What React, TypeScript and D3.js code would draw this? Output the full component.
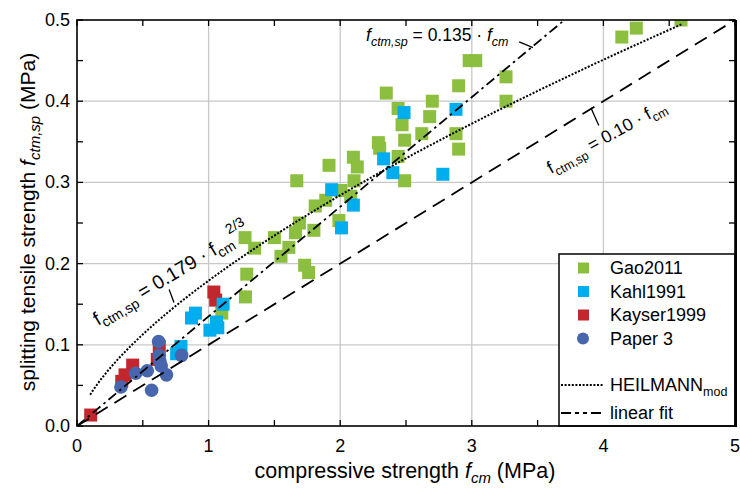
import React from "react";
import * as d3 from "d3";

const gaoX = [4.59, 4.14, 4.25, 2.98, 3.03, 2.9, 3.26, 2.7, 3.26, 2.68, 2.62, 2.88, 2.9, 2.49, 2.44, 2.47, 2.49, 2.29, 2.3, 2.1, 2.13, 1.915, 2.44, 2.105, 1.67, 2.006, 1.89, 2.08, 1.81, 1.69, 1.99, 1.66, 1.8, 1.277, 1.5, 1.35, 1.61, 1.55, 1.73, 1.76, 1.29, 1.28, 1.1, 2.35];
const gaoY = [0.5, 0.479, 0.49, 0.45, 0.45, 0.419, 0.43, 0.4, 0.4, 0.381, 0.36, 0.36, 0.341, 0.302, 0.391, 0.371, 0.352, 0.349, 0.342, 0.331, 0.319, 0.321, 0.332, 0.302, 0.302, 0.29, 0.278, 0.283, 0.271, 0.25, 0.253, 0.238, 0.241, 0.232, 0.232, 0.219, 0.22, 0.209, 0.198, 0.189, 0.187, 0.159, 0.139, 0.41];
const kahlX = [2.88, 2.78, 2.485, 2.33, 2.4, 1.935, 2.1, 2.01, 1.11, 1.06, 1.01, 1.07, 0.9, 0.87, 0.79, 0.757];
const kahlY = [0.39, 0.31, 0.386, 0.329, 0.312, 0.291, 0.272, 0.244, 0.15, 0.128, 0.118, 0.121, 0.139, 0.133, 0.098, 0.089];
const kayserX = [1.04, 1.054, 0.625, 0.61, 0.423, 0.365, 0.34, 0.104];
const kayserY = [0.165, 0.155, 0.098, 0.082, 0.075, 0.063, 0.055, 0.0135];
const paperX = [0.62, 0.625, 0.64, 0.68, 0.795, 0.534, 0.567, 0.446, 0.334, 0.63];
const paperY = [0.104, 0.087, 0.074, 0.063, 0.087, 0.068, 0.044, 0.065, 0.048, 0.08];

const xTicks = [0, 1, 2, 3, 4, 5];
const yTicks = [0, 0.1, 0.2, 0.3, 0.4, 0.5];
const yTickLabels = ["0.0", "0.1", "0.2", "0.3", "0.4", "0.5"];
const heilCoef = 0.179;
const heilRange = [0.1, 4.6];
const slopeA = 0.135;
const slopeB = 0.1;

const C = { gao: "#8cbf3f", kahl: "#00adef", kayser: "#c1272d", paper: "#4766ad" };
const FONT = "'Liberation Sans', Arial, sans-serif";

export default function App() {
  const W = 740, H = 489;
  const x = d3.scaleLinear().domain([0, 5]).range([77, 735]);
  const y = d3.scaleLinear().domain([0, 0.5]).range([426, 20]);
  const S = 13;

  const heilPts = d3.range(heilRange[0], heilRange[1] + 1e-9, 0.02).map((v) => [v, heilCoef * Math.pow(v, 2 / 3)] as [number, number]);
  const line = d3.line<[number, number]>().x((d) => x(d[0])).y((d) => y(d[1]));
  const lineA: [number, number][] = [[0, 0], [0.5 / slopeA, 0.5]];
  const lineB: [number, number][] = [[0, 0], [5, 5 * slopeB]];

  const minorX = d3.range(0, 5.01, 0.5);
  const minorY = d3.range(0, 0.501, 0.05);

  const square = (cx: number, cy: number, col: string, k: string, s = S) => (
    <rect key={k} x={cx - s / 2} y={cy - s / 2} width={s} height={s} fill={col} />
  );

  const lx = 559, ly = 254;
  const legendItems = [
    { name: "Gao2011", col: C.gao, circ: false },
    { name: "Kahl1991", col: C.kahl, circ: false },
    { name: "Kayser1999", col: C.kayser, circ: false },
    { name: "Paper 3", col: C.paper, circ: true },
  ];

  return (
    <svg width={W} height={H} style={{ position: "absolute", left: 0, top: 0, background: "#fff" }} fontFamily={FONT}>
      <defs>
        <clipPath id="plot">
          <rect x={77} y={20} width={658} height={406} />
        </clipPath>
      </defs>
      <rect x={0} y={0} width={W} height={H} fill="#fff" />
      {/* grid */}
      {xTicks.slice(1, -1).map((t) => (
        <line key={"gx" + t} x1={x(t)} x2={x(t)} y1={20} y2={426} stroke="#c8c8c8" strokeWidth={1.3} />
      ))}
      {yTicks.slice(1, -1).map((t) => (
        <line key={"gy" + t} x1={77} x2={735} y1={y(t)} y2={y(t)} stroke="#c8c8c8" strokeWidth={1.3} />
      ))}
      <g clipPath="url(#plot)">
        {gaoX.map((v, i) => square(x(v), y(gaoY[i]), C.gao, "g" + i))}
        {kayserX.map((v, i) => square(x(v), y(kayserY[i]), C.kayser, "r" + i))}
        {kahlX.map((v, i) => square(x(v), y(kahlY[i]), C.kahl, "b" + i))}
        {paperX.map((v, i) => (
          <circle key={"p" + i} cx={x(v)} cy={y(paperY[i])} r={6.8} fill={C.paper} />
        ))}
        <path d={line(lineB) || ""} fill="none" stroke="#000" strokeWidth={1.8} strokeDasharray="14,8" />
        <path d={line(lineA) || ""} fill="none" stroke="#000" strokeWidth={1.8} strokeDasharray="10,4,2.5,4" />
        <path d={line(heilPts) || ""} fill="none" stroke="#000" strokeWidth={2} strokeDasharray="2,1.6" />
      </g>
      {/* leaders */}
      <line x1={x(3.36)} y1={y(0.473)} x2={x(3.465)} y2={y(0.466)} stroke="#000" strokeWidth={1.3} />
      <line x1={x(3.905)} y1={y(0.392)} x2={x(3.965)} y2={y(0.37)} stroke="#000" strokeWidth={1.3} />
      <line x1={x(0.7)} y1={y(0.168)} x2={x(0.737)} y2={y(0.152)} stroke="#000" strokeWidth={1.3} />
      {/* annotations */}
      <text x={366} y={41} fontSize={17.5} fill="#000">
        <tspan fontStyle="italic">f</tspan>
        <tspan fontStyle="italic" fontSize={12.5} dy={5}>ctm,sp</tspan>
        <tspan dy={-5}> = 0.135 · </tspan>
        <tspan fontStyle="italic">f</tspan>
        <tspan fontStyle="italic" fontSize={12.5} dy={5}>cm</tspan>
      </text>
      <text transform="translate(551,174) rotate(-29)" fontSize={17.5} fill="#000">
        <tspan>f</tspan>
        <tspan fontSize={12.5} dy={5}>ctm,sp</tspan>
        <tspan dy={-5}> = 0.10 · f</tspan>
        <tspan fontSize={12.5} dy={5}>cm</tspan>
      </text>
      <text transform="translate(98,326) rotate(-31)" fontSize={19.5} fill="#000">
        <tspan>f</tspan>
        <tspan fontSize={14} dy={5}>ctm,sp</tspan>
        <tspan dy={-5}> = 0.179 · f</tspan>
        <tspan fontSize={14} dy={5}>cm</tspan>
        <tspan fontSize={14} dy={-16}>2/3</tspan>
      </text>
      {/* ticks */}
      {minorX.map((t) => (
        <g key={"tx" + t}>
          <line x1={x(t)} x2={x(t)} y1={426} y2={420} stroke="#000" strokeWidth={1.3} />
          <line x1={x(t)} x2={x(t)} y1={20} y2={26} stroke="#000" strokeWidth={1.3} />
        </g>
      ))}
      {minorY.map((t) => (
        <g key={"ty" + t}>
          <line x1={77} x2={83} y1={y(t)} y2={y(t)} stroke="#000" strokeWidth={1.3} />
          <line x1={735} x2={729} y1={y(t)} y2={y(t)} stroke="#000" strokeWidth={1.3} />
        </g>
      ))}
      {/* legend */}
      <rect x={lx} y={ly} width={735 - lx} height={426 - ly} fill="#fff" stroke="#000" strokeWidth={1.5} />
      {legendItems.map((it, i) => {
        const cy = ly + 14 + i * 23.5;
        return (
          <g key={it.name}>
            {it.circ ? (
              <circle cx={583} cy={cy} r={6} fill={it.col} />
            ) : (
              <rect x={578} y={cy - 5.5} width={11} height={11} fill={it.col} />
            )}
            <text x={610} y={cy + 6} fontSize={18} fill="#000">{it.name}</text>
          </g>
        );
      })}
      <line x1={561} x2={603} y1={385} y2={385} stroke="#000" strokeWidth={2} strokeDasharray="2,1.6" />
      <text x={610} y={391} fontSize={18} fill="#000">
        HEILMANN<tspan fontSize={12.5} dy={5}>mod</tspan>
      </text>
      <line x1={561} x2={604} y1={413} y2={413} stroke="#000" strokeWidth={2} strokeDasharray="10,4,4,4,4,4" />
      <text x={610} y={419} fontSize={18} fill="#000">linear fit</text>
      {/* frame */}
      <rect x={77} y={20} width={658} height={406} fill="none" stroke="#000" strokeWidth={1.6} />
      <line x1={736} x2={736} y1={20} y2={427} stroke="#000" strokeWidth={2} />
      {/* tick labels */}
      {xTicks.map((t) => (
        <text key={"xl" + t} x={x(t)} y={452} fontSize={18} textAnchor="middle" fill="#000">{t}</text>
      ))}
      {yTicks.map((t, i) => (
        <text key={"yl" + t} x={70} y={y(t) + 6} fontSize={18} textAnchor="end" fill="#000">{yTickLabels[i]}</text>
      ))}
      {/* axis titles */}
      <text x={405} y={478} fontSize={21.5} textAnchor="middle" fill="#000">
        compressive strength <tspan fontStyle="italic">f</tspan>
        <tspan fontStyle="italic" fontSize={15} dy={5}>cm</tspan>
        <tspan dy={-5}> (MPa)</tspan>
      </text>
      <text transform="translate(35,222) rotate(-90)" fontSize={21} textAnchor="middle" fill="#000">
        splitting tensile strength <tspan fontStyle="italic">f</tspan>
        <tspan fontStyle="italic" fontSize={15} dy={5}>ctm,sp</tspan>
        <tspan dy={-5}> (MPa)</tspan>
      </text>
    </svg>
  );
}
